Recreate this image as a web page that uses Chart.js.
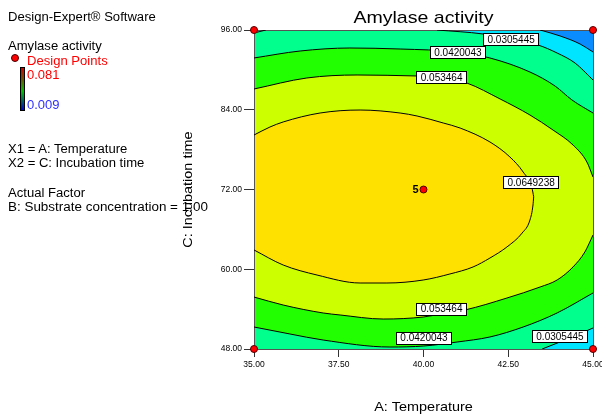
<!DOCTYPE html>
<html>
<head>
<meta charset="utf-8">
<script src="https://cdn.jsdelivr.net/npm/chart.js@4.4.1/dist/chart.umd.min.js"></script>
<style>
html,body{margin:0;padding:0;background:#fff;overflow:hidden;}
#wrap{position:relative;width:602px;height:415px;font-family:"Liberation Sans",Arial,sans-serif;}
#c{position:absolute;left:0;top:0;}
.t{position:absolute;white-space:nowrap;font-size:12px;line-height:12px;color:#000;transform:scaleX(1.09);transform-origin:0 0;}
.n{position:absolute;white-space:nowrap;font-size:13px;line-height:13px;}
</style>
</head>
<body>
<div id="wrap">
<canvas id="c" width="602" height="415"></canvas>
<div class="t" style="left:8px;top:11px">Design-Expert® Software</div>
<div class="t" style="left:8px;top:40px">Amylase activity</div>
<div style="position:absolute;left:11px;top:54px;width:6px;height:6px;border-radius:50%;background:#ff0000;border:1px solid #400;"></div>
<div class="t" style="left:27px;top:55px;color:#ff0000">Design Points</div>
<div style="position:absolute;left:20px;top:67px;width:3px;height:42px;border:1px solid #000;background:linear-gradient(to bottom,#d00000 0%,#606000 30%,#00c000 55%,#006060 78%,#0000d0 100%);"></div>
<div class="n" style="left:27px;top:68px;color:#ff0000">0.081</div>
<div class="n" style="left:27px;top:98px;color:#3030ff">0.009</div>
<div class="t" style="left:8px;top:143px">X1 = A: Temperature</div>
<div class="t" style="left:8px;top:157px">X2 = C: Incubation time</div>
<div class="t" style="left:8px;top:187px">Actual Factor</div>
<div class="t" style="left:8px;top:201px;transform:scaleX(1.12)">B: Substrate concentration = 1.00</div>
</div>
<script>
// ---- axes ----
const xTickValues = [35, 37.5, 40, 42.5, 45];
const yTickValues = [48, 60, 72, 84, 96];
const xRange = [35, 45];
const yRange = [48, 96];

// ---- design points ----
const designX = [35, 35, 45, 45, 40];
const designY = [48, 96, 48, 96, 72];
const designReps = [1, 1, 1, 1, 5];

// ---- contour lines (A: Temperature, C: Incubation time) ----
const c019Top = [[43.44,96.00],[44.03,95.10],[44.62,93.89],[45.00,92.69]];
const c0305Top = [[40.40,96.00],[41.76,95.40],[42.55,94.65],[43.38,93.74],[43.94,92.54],[44.47,91.03],[45.00,88.48]];
const c0305TopLeft = [[35.00,95.55],[35.35,96.00]];
const c0305Bot = [[43.50,48.00],[44.32,49.66],[45.00,51.16]];
const c042Top = [[35.00,91.79],[36.36,92.84],[37.83,93.29],[39.31,93.14],[40.99,92.69],[41.96,91.79],[43.14,89.68],[43.88,87.57],[44.38,85.47],[45.00,83.51]];
const c042Bot = [[35.00,51.31],[36.06,50.26],[37.04,49.35],[39.01,48.30],[40.01,48.45],[40.99,49.05],[41.96,49.81],[42.94,51.31],[43.94,53.42],[45.00,56.43]];
const c053Top = [[35.00,87.12],[36.56,88.78],[38.04,89.23],[39.81,89.08],[40.52,88.93],[41.28,88.02],[42.26,85.62],[43.14,83.21],[43.82,80.95],[44.41,78.70],[44.82,76.14],[45.00,73.88]];
const c053Bot = [[35.00,55.82],[35.86,54.62],[37.04,53.42],[37.54,53.12],[38.81,52.51],[39.99,52.81],[40.52,53.27],[41.22,53.87],[42.46,55.67],[43.44,57.33],[43.94,58.38],[44.41,60.34],[44.76,62.60],[45.00,65.15]];
const c0649Upper = [[35.00,80.20],[35.47,81.40],[35.86,82.16],[36.95,83.51],[38.13,83.96],[39.31,83.51],[39.81,83.06],[40.58,82.01],[41.08,81.25],[41.96,79.15],[42.55,76.89],[42.94,74.63],[43.20,72.23],[43.25,70.90]];
const c0649Lower = [[35.00,62.90],[35.86,60.64],[36.86,59.13],[38.13,57.93],[38.92,57.93],[39.99,58.38],[40.78,59.29],[41.46,60.34],[41.96,61.69],[42.46,63.35],[42.91,65.45],[43.14,67.41],[43.23,69.67],[43.25,70.90]];

// ---- contour labels ----
const labelTexts = ['0.0305445','0.0420043','0.053464','0.0649238','0.053464','0.0420043','0.0305445'];
const labelX = [42.57, 41.00, 40.52, 43.16, 40.52, 40.00, 44.01];
const labelY = [94.65, 92.69, 88.93, 73.06, 54.09, 49.73, 49.96];

// ---- styles ----
const COL = {blue:'#0a8cff', cyan:'#00e5ff', spring:'#00ff8c', green:'#22ff00', lime:'#ccff00', yellow:'#ffe100'};
const FONT = '"Liberation Sans", Arial, sans-serif';

const toXY = a => a.map(p => ({x:p[0], y:p[1]}));
function lineDs(data, order, fill, color) {
  return {data: toXY(data), order, fill: fill, backgroundColor: color || 'transparent',
    borderColor:'#000', borderWidth:1, pointRadius:0, pointHoverRadius:0,
    cubicInterpolationMode:'monotone', showLine:true};
}

const datasets = [
  {data: designX.map((x,i)=>({x, y:designY[i]})), order:0, showLine:false, pointRadius:3.5,
   pointBackgroundColor:'#ff0000', pointBorderColor:'#500000', pointBorderWidth:1, clip:false, fill:false},
  lineDs(c0305Top, 9, 'end', COL.cyan),      // 1
  lineDs(c0305TopLeft, 9, 'end', COL.cyan),  // 2
  lineDs(c0305Bot, 9, 'start', COL.cyan),    // 3
  lineDs(c019Top, 8, 'end', COL.blue),       // 4
  lineDs(c042Top, 7, 6, COL.green),          // 5
  lineDs(c042Bot, 7, false),                 // 6
  lineDs(c053Top, 6, 8, COL.lime),           // 7
  lineDs(c053Bot, 6, false),                 // 8
  lineDs(c0649Upper, 5, 10, COL.yellow),     // 9
  lineDs(c0649Lower, 5, false)               // 10
];

const deco = {
  id:'deco',
  beforeDraw(chart){
    const {ctx, chartArea:a} = chart;
    ctx.save(); ctx.fillStyle = COL.spring;
    ctx.fillRect(a.left, a.top, a.right-a.left, a.bottom-a.top);
    ctx.restore();
  },
  beforeDatasetsDraw(chart){
    const {ctx, chartArea:a} = chart;
    ctx.save(); ctx.strokeStyle = '#555'; ctx.lineWidth = 1;
    ctx.strokeRect(a.left+0.5, a.top+0.5, a.right-a.left, a.bottom-a.top);
    ctx.restore();
  },
  afterDatasetsDraw(chart){
    const {ctx, scales:{x, y}} = chart;
    ctx.save();
    ctx.font = '10px ' + FONT;
    ctx.textAlign = 'center'; ctx.textBaseline = 'middle';
    labelTexts.forEach((t, i) => {
      const px = x.getPixelForValue(labelX[i]), py = y.getPixelForValue(labelY[i]);
      const w = Math.round(ctx.measureText(t).width + 8), h = 12;
      const l = Math.round(px - w/2), tp = Math.round(py - h/2);
      ctx.fillStyle = '#fff'; ctx.fillRect(l, tp, w, h);
      ctx.strokeStyle = '#000'; ctx.lineWidth = 1; ctx.strokeRect(l+0.5, tp+0.5, w, h);
      ctx.fillStyle = '#000'; ctx.fillText(t, px+0.5, py+1);
    });
    // replicate counts
    ctx.font = 'bold 11px ' + FONT;
    ctx.textAlign = 'right';
    designReps.forEach((r, i) => {
      if (r > 1) {
        ctx.fillText(String(r), x.getPixelForValue(designX[i]) - 5, y.getPixelForValue(designY[i]));
      }
    });
    ctx.restore();
  },
  afterDraw(chart){
    const {ctx, chartArea:a} = chart;
    const cx = (a.left + a.right) / 2, cy = (a.top + a.bottom) / 2;
    ctx.save(); ctx.fillStyle = '#000'; ctx.textAlign = 'center'; ctx.textBaseline = 'alphabetic';
    ctx.font = '17px ' + FONT;
    ctx.save(); ctx.translate(cx, 23); ctx.scale(1.15, 1); ctx.fillText('Amylase activity', 0, 0); ctx.restore();
    ctx.font = '13px ' + FONT;
    ctx.save(); ctx.translate(cx, 411); ctx.scale(1.11, 1); ctx.fillText('A: Temperature', 0, 0); ctx.restore();
    ctx.save(); ctx.translate(192, cy); ctx.rotate(-Math.PI/2); ctx.scale(1.11, 1); ctx.fillText('C: Incubation time', 0, 0); ctx.restore();
    ctx.restore();
  }
};

new Chart(document.getElementById('c'), {
  type:'line',
  data:{datasets},
  options:{
    responsive:false, maintainAspectRatio:false, animation:false, events:[],
    layout:{padding:{top:30, right:9, bottom:0, left:0}},
    plugins:{legend:{display:false}, tooltip:{enabled:false}, title:{display:false}, filler:{drawTime:'beforeDatasetsDraw'}},
    scales:{
      x:{type:'linear', position:'bottom', min:xRange[0], max:xRange[1],
        afterBuildTicks: s => { s.ticks = xTickValues.map(v => ({value:v})); },
        afterFit: s => { s.height = 66; s.paddingLeft = 0; s.paddingRight = 0; },
        ticks:{callback: v => Number(v).toFixed(2), font:{family:FONT, size:8.5}, color:'#000', padding:3, maxRotation:0, autoSkip:false},
        grid:{drawOnChartArea:false, drawTicks:true, tickLength:8, color:'#333'},
        border:{display:false}},
      y:{type:'linear', position:'left', min:yRange[0], max:yRange[1],
        afterBuildTicks: s => { s.ticks = yTickValues.map(v => ({value:v})); },
        afterFit: s => { s.width = 254; s.paddingTop = 0; s.paddingBottom = 0; },
        ticks:{callback: v => Number(v).toFixed(2), font:{family:FONT, size:8.5}, color:'#000', padding:2, autoSkip:false},
        grid:{drawOnChartArea:false, drawTicks:true, tickLength:10, color:'#333'},
        border:{display:false}}
    }
  },
  plugins:[deco]
});
</script>
</body>
</html>
